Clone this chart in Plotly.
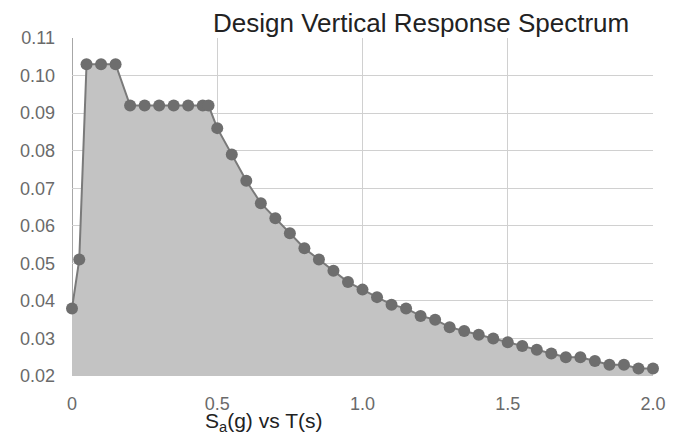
import plotly.graph_objects as go

T = [0, 0.025, 0.05, 0.1, 0.15, 0.2, 0.25, 0.3, 0.35, 0.4, 0.45, 0.47,
     0.5, 0.55, 0.6, 0.65, 0.7, 0.75, 0.8, 0.85, 0.9, 0.95, 1.0,
     1.05, 1.1, 1.15, 1.2, 1.25, 1.3, 1.35, 1.4, 1.45, 1.5,
     1.55, 1.6, 1.65, 1.7, 1.75, 1.8, 1.85, 1.9, 1.95, 2.0]
Sa = [0.038, 0.051, 0.103, 0.103, 0.103, 0.092, 0.092, 0.092, 0.092, 0.092, 0.092, 0.092,
      0.086, 0.079, 0.072, 0.066, 0.062, 0.058, 0.054, 0.051, 0.048, 0.045, 0.043,
      0.041, 0.039, 0.038, 0.036, 0.035, 0.033, 0.032, 0.031, 0.030, 0.029,
      0.028, 0.027, 0.026, 0.025, 0.025, 0.024, 0.023, 0.023, 0.022, 0.022]

x_tickvals = [0, 0.5, 1.0, 1.5, 2.0]
x_ticktext = ["0", "0.5", "1.0", "1.5", "2.0"]
y_tickvals = [0.02, 0.03, 0.04, 0.05, 0.06, 0.07, 0.08, 0.09, 0.10, 0.11]

title_text = "Design Vertical Response Spectrum"
xaxis_title = "S<sub>a</sub>(g) vs T(s)"

FONT = "Liberation Sans, Arial, sans-serif"

fig = go.Figure()
fig.add_trace(go.Scatter(
    x=T, y=Sa, mode="lines+markers",
    line=dict(color="#7a7a7a", width=2),
    marker=dict(color="#6e6e6e", size=12),
    fill="tozeroy", fillcolor="#c3c3c3",
    cliponaxis=False,
))

fig.update_layout(
    width=670, height=429,
    margin=dict(l=64, r=21, t=30, b=61),
    paper_bgcolor="white", plot_bgcolor="white",
    showlegend=False,
    font=dict(family=FONT, color="#6a6a6a", size=18),
    xaxis=dict(range=[0, 2.0], tickvals=x_tickvals, ticktext=x_ticktext,
               showgrid=True, gridcolor="#d0d0d0", gridwidth=1,
               zeroline=False, showline=False, ticks="",
               ticklabelstandoff=15),
    yaxis=dict(range=[0.02, 0.11], tickvals=y_tickvals, tickformat=".2f",
               showgrid=True, gridcolor="#d0d0d0", gridwidth=1,
               zeroline=False, showline=False, ticks="",
               ticklabelstandoff=16),
    shapes=[dict(type="line", xref="x", yref="paper", x0=0, x1=0, y0=0, y1=1,
                 line=dict(color="#8a8a8a", width=1.5), layer="below"),
            dict(type="line", xref="paper", yref="y", x0=0, x1=1, y0=0.02, y1=0.02,
                 line=dict(color="#9a9a9a", width=1), layer="below")],
    annotations=[
        dict(text=title_text, xref="paper", yref="paper", x=0.6, y=1.045,
             xanchor="center", yanchor="middle", showarrow=False,
             font=dict(size=26, color="#222222", family=FONT)),
        dict(text=xaxis_title, xref="paper", yref="paper", x=0.33, y=-0.135,
             xanchor="center", yanchor="middle", showarrow=False,
             font=dict(size=21, color="#222222", family=FONT)),
    ],
)

fig.write_html("out.html")
